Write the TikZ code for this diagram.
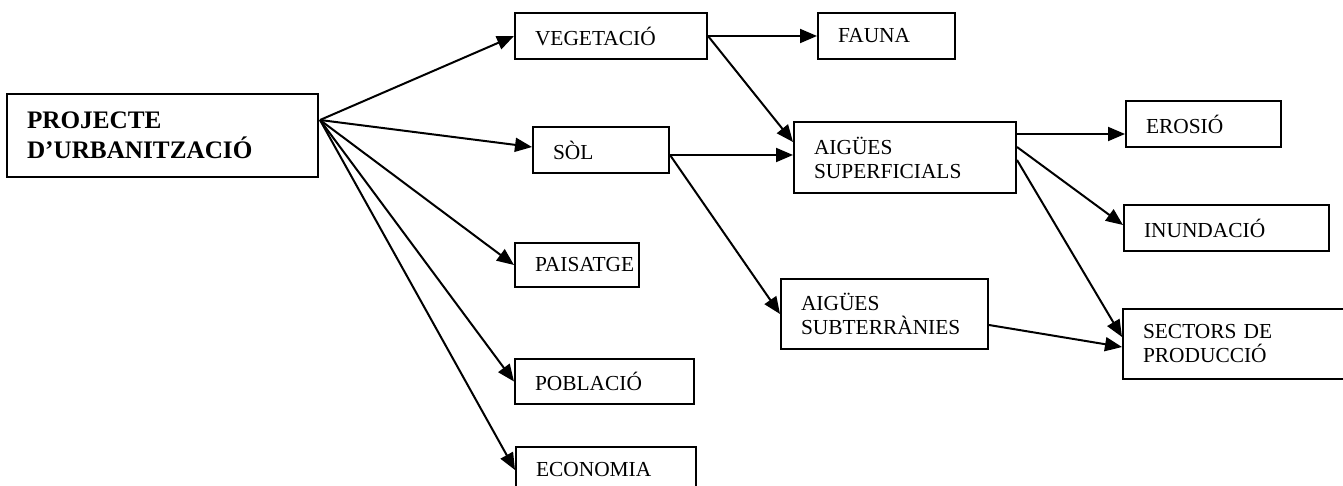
\documentclass[tikz,border=0pt]{standalone}
\usepackage{fontspec}
\setmainfont{Liberation Serif}
\usepackage{tikz}
\usetikzlibrary{arrows.meta,calc}
\hyphenpenalty=10000
\exhyphenpenalty=10000

\begin{document}
\begin{tikzpicture}[
    x=0.5pt, y=-0.5pt,
    box/.style={rectangle, draw, line width=1pt, inner xsep=10pt, inner ysep=0pt, align=left, font=\fontsize{10.7}{12}\selectfont},
    arrow/.style={-{Triangle[length=8.5pt,width=7pt]}, line width=1pt}
]
\clip (0,0) rectangle (1343,486);

% Main project
\node[box, text width=135.5pt, minimum height=41.5pt, font=\fontsize{12.6}{15}\selectfont\bfseries] (proj) at (162.5,135.5) {PROJECTE\\D’URBANITZACIÓ};

% First level
\node[box, text width=76pt, minimum height=23pt] (veg) at (611,36) {VEGETACIÓ};
\node[box, text width=48pt, minimum height=23pt] (sol) at (601,150) {SÒL};
\node[box, text width=42pt, minimum height=22pt] (paisatge) at (577,265) {PAISATGE};
\node[box, text width=69.5pt, minimum height=22.5pt] (poblacio) at (604.5,381.5) {POBLACIÓ};
\node[box, text width=70pt, minimum height=23pt] (economia) at (606,470) {ECONOMIA};

% Second level
\node[box, text width=48.5pt, minimum height=23pt] (fauna) at (886.5,36) {FAUNA};
\node[box, text width=91pt, minimum height=35.5pt] (aigsup) at (905,157.5) {AIGÜES\\SUPERFICIALS};
\node[box, text width=83.5pt, minimum height=35pt] (aigsub) at (884.5,314) {AIGÜES\\SUBTERRÀNIES};

% Third level
\node[box, text width=57.5pt, minimum height=23pt] (erosio) at (1203.5,124) {EROSIÓ};
\node[box, text width=82.5pt, minimum height=23pt] (inundacio) at (1226.5,228) {INUNDACIÓ};
\node[box, text width=95pt, minimum height=35pt] (sectors) at (1238,344) {SECTORS DE\\PRODUCCIÓ};

% Arrows
\coordinate (pj) at ($(proj.east)+(1,-15.5)$);
\draw[arrow] (pj) -- (veg.west);
\draw[arrow] (pj) -- ($(sol.west)+(0,-3)$);
\draw[arrow] (pj) -- (paisatge.west);
\draw[arrow] (pj) -- (poblacio.west);
\draw[arrow] (pj) -- (economia.west);
\draw[arrow] (veg.east) -- (fauna.west);
\draw[arrow] (veg.east) -- ($(aigsup.west)+(0,-15.5)$);
\draw[arrow] ($(sol.east)+(0,5)$) -- ($(aigsup.west)+(0,-2.5)$);
\draw[arrow] ($(sol.east)+(0,5)$) -- (aigsub.west);
\draw[arrow] ($(aigsup.east)+(0,-23.5)$) -- ($(erosio.west)+(0,10)$);
\draw[arrow] ($(aigsup.east)+(0,-10.5)$) -- ($(inundacio.west)+(0,-3)$);
\draw[arrow] ($(aigsup.east)+(0,2.5)$) -- ($(sectors.west)+(0,-7)$);
\draw[arrow] ($(aigsub.east)+(0,11)$) -- ($(sectors.west)+(0,3)$);

\end{tikzpicture}
\end{document}
